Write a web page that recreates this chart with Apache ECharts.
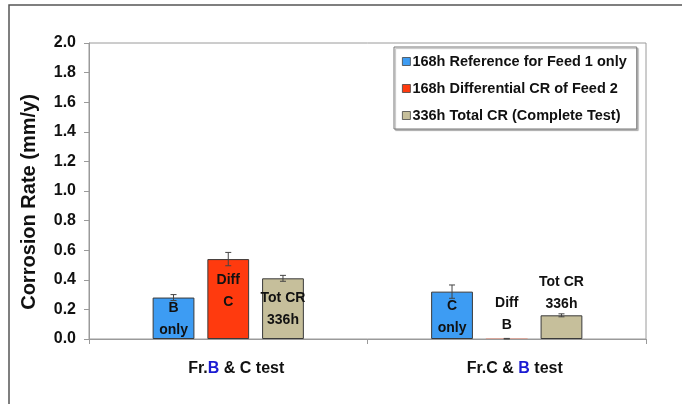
<!DOCTYPE html>
<html>
<head>
<meta charset="utf-8">
<script src="https://cdn.jsdelivr.net/npm/echarts@6/dist/echarts.min.js"></script>
<style>
  html, body { margin: 0; padding: 0; background: #fff; }
  #chart { width: 682px; height: 404px; }
</style>
</head>
<body>
<div id="chart"></div>
<script>
// Test groups on the x axis
const categories = ['Fr.B & C test', 'Fr.C & B test'];

// Corrosion rates (mm/y) with their error half-widths
const refValues   = [0.28, 0.32];
const refErrors   = [0.02, 0.045];
const diffValues  = [0.54, 0.002];
const diffErrors  = [0.045, 0.002];
const totalValues = [0.41, 0.16];
const totalErrors = [0.02, 0.01];

// Text written on / above each bar
const refLabels   = ['B\nonly', 'C\nonly'];
const diffLabels  = ['Diff\nC', 'Diff\nB'];
const totalLabels = ['Tot CR\n336h', 'Tot CR\n336h'];

const seriesNames = [
  '168h Reference for Feed 1 only',
  '168h Differential CR of Feed 2',
  '336h Total CR (Complete Test)'
];

const yTicks = [0, 0.2, 0.4, 0.6, 0.8, 1.0, 1.2, 1.4, 1.6, 1.8, 2.0];

const colors = ['#3d9cf3', '#ff3a0e', '#c6bf9b'];
const BAR_PCT = 0.15;   // bar width as a share of the category band
const GAP_PCT = 0.31;   // gap between bars as a share of bar width
const labelFont = '"Liberation Sans", Arial, sans-serif';

function barData(values, labels, positions) {
  return values.map((v, i) => {
    const item = {
      value: v,
      label: {
        show: true,
        formatter: labels[i],
        position: positions[i].pos,
        offset: positions[i].offset || [0, 0]
      }
    };
    // a bar this close to zero shows no outline
    if (v < 0.01) item.itemStyle = { borderWidth: 0 };
    return item;
  });
}

const refData = barData(refValues, refLabels, [{ pos: 'inside', offset: [0, 1] }, { pos: 'inside', offset: [0, 2] }]);
const diffData = barData(diffValues, diffLabels, [{ pos: 'inside', offset: [0, -8] }, { pos: 'top', offset: [0, 2] }]);
const totalData = barData(totalValues, totalLabels, [{ pos: 'inside' }, { pos: 'top', offset: [0, 5] }]);

// Error bar records: [category index, series index, value, half-width]
const errorData = [];
[[refValues, refErrors], [diffValues, diffErrors], [totalValues, totalErrors]].forEach((pair, s) => {
  pair[0].forEach((v, c) => errorData.push([c, s, v, pair[1][c]]));
});

const chart = echarts.init(document.getElementById('chart'));

const barLabelStyle = {
  color: '#111',
  fontFamily: labelFont,
  fontWeight: 'bold',
  fontSize: 14,
  lineHeight: 22
};

chart.setOption({
  backgroundColor: '#fff',
  animation: false,
  graphic: [{
    type: 'rect',
    shape: { x: 9, y: 5, width: 720, height: 440 },
    style: { fill: 'none', stroke: '#555', lineWidth: 1.5 },
    silent: true
  }],
  legend: {
    orient: 'vertical',
    left: 394,
    top: 47,
    data: seriesNames.map(n => ({ name: n, icon: 'rect' })),
    itemWidth: 8,
    itemHeight: 8,
    itemGap: 12,
    padding: [7, 10, 6, 8],
    backgroundColor: '#fff',
    borderColor: '#777',
    borderWidth: 1,
    shadowColor: 'rgba(0,0,0,0.25)',
    shadowBlur: 1,
    shadowOffsetX: 1.5,
    shadowOffsetY: 1.5,
    itemStyle: { borderColor: '#444', borderWidth: 0.8 },
    textStyle: {
      color: '#111',
      fontFamily: labelFont,
      fontWeight: 'bold',
      fontSize: 14.5,
      padding: [0, 0, 0, -3]
    }
  },
  grid: {
    left: 89,
    right: 36,
    top: 43,
    bottom: 65,
    show: true,
    borderColor: '#9a9a9a',
    borderWidth: 1
  },
  xAxis: {
    type: 'category',
    data: categories,
    axisLine: { lineStyle: { color: '#9a9a9a' } },
    axisTick: { show: true, interval: 0, length: 5, lineStyle: { color: '#9a9a9a' } },
    axisLabel: {
      margin: 22,
      padding: [0, 0, 0, 16],
      formatter: function (v) {
        if (v === categories[0]) return '{a|Fr.}{b|B}{a| & C test}';
        return '{a|Fr.C & }{b|B}{a| test}';
      },
      rich: {
        a: { color: '#111', fontFamily: labelFont, fontWeight: 'bold', fontSize: 16 },
        b: { color: '#1b1bd2', fontFamily: labelFont, fontWeight: 'bold', fontSize: 16 }
      }
    }
  },
  yAxis: {
    type: 'value',
    min: yTicks[0],
    max: yTicks[yTicks.length - 1],
    interval: 0.2,
    name: 'Corrosion Rate (mm/y)',
    nameLocation: 'middle',
    nameGap: 50,
    nameTextStyle: {
      color: '#111',
      fontFamily: labelFont,
      fontWeight: 'bold',
      fontSize: 20,
      padding: [0, 22, 0, 0]
    },
    axisLine: { show: true, lineStyle: { color: '#9a9a9a' } },
    axisTick: { show: true, length: 5, lineStyle: { color: '#9a9a9a' } },
    splitLine: { show: false },
    axisLabel: {
      margin: 13,
      color: '#111',
      fontFamily: labelFont,
      fontWeight: 'bold',
      fontSize: 16,
      formatter: v => v.toFixed(1)
    }
  },
  series: [
    {
      name: seriesNames[0], type: 'bar', data: refData,
      barWidth: (BAR_PCT * 100) + '%', barGap: (GAP_PCT * 100) + '%',
      itemStyle: { color: colors[0], borderColor: '#3a3a3a', borderWidth: 1 },
      label: barLabelStyle
    },
    {
      name: seriesNames[1], type: 'bar', data: diffData,
      barWidth: (BAR_PCT * 100) + '%', barGap: (GAP_PCT * 100) + '%',
      itemStyle: { color: colors[1], borderColor: '#3a3a3a', borderWidth: 1 },
      label: barLabelStyle
    },
    {
      name: seriesNames[2], type: 'bar', data: totalData,
      barWidth: (BAR_PCT * 100) + '%', barGap: (GAP_PCT * 100) + '%',
      itemStyle: { color: colors[2], borderColor: '#3a3a3a', borderWidth: 1 },
      label: barLabelStyle
    },
    {
      type: 'custom',
      name: 'errors',
      data: errorData,
      z: 10,
      renderItem: function (params, api) {
        const cat = api.value(0);
        const s = api.value(1);
        const v = api.value(2);
        const e = api.value(3);
        const band = api.size([1, 0])[0];
        const step = band * BAR_PCT * (1 + GAP_PCT);
        const hi = api.coord([cat, v + e]);
        const lo = api.coord([cat, v - e]);
        const x = hi[0] + (s - 1) * step;
        const cap = 3;
        const style = { stroke: '#444', lineWidth: 1 };
        return {
          type: 'group',
          children: [
            { type: 'line', shape: { x1: x, y1: hi[1], x2: x, y2: lo[1] }, style },
            { type: 'line', shape: { x1: x - cap, y1: hi[1], x2: x + cap, y2: hi[1] }, style },
            { type: 'line', shape: { x1: x - cap, y1: lo[1], x2: x + cap, y2: lo[1] }, style }
          ]
        };
      }
    }
  ]
});
</script>
</body>
</html>
